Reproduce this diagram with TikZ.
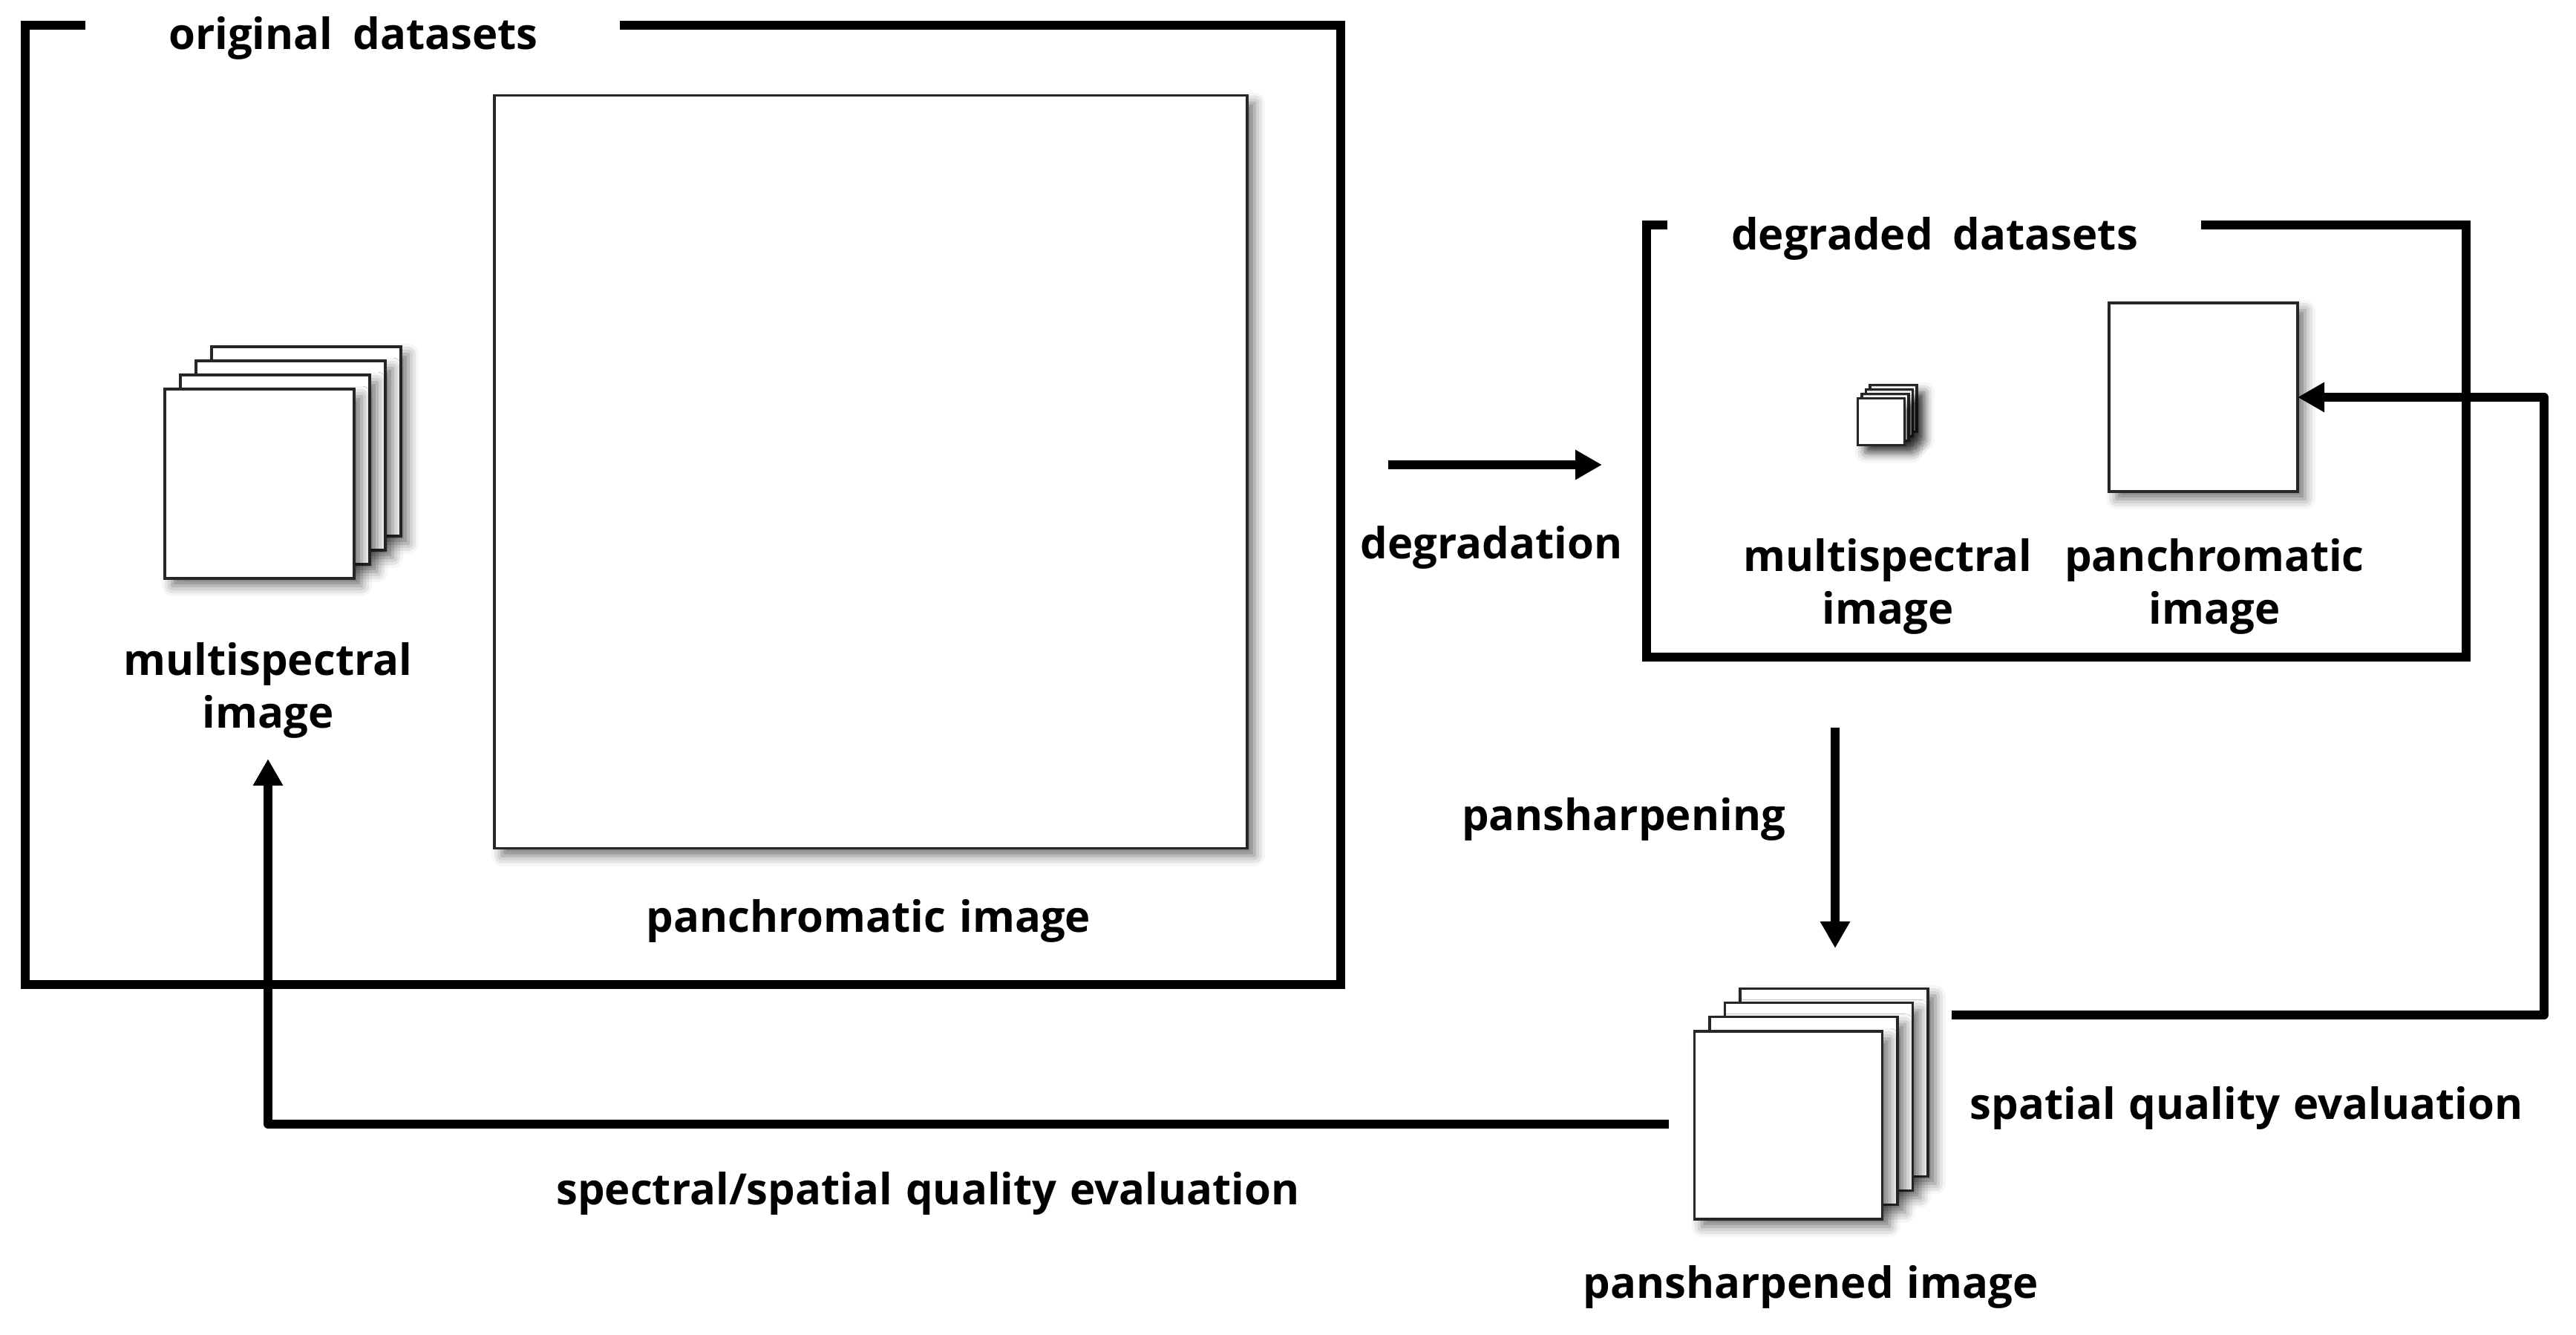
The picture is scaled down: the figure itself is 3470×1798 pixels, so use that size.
\documentclass[tikz,border=0pt]{standalone}
\usepackage{fontspec}
\setmainfont{Open Sans}[WordSpace=1.2]
\newfontfamily\ttlfont{Open Sans}[WordSpace=1.8]
\usetikzlibrary{arrows.meta,shadows.blur}
\begin{document}
\begin{tikzpicture}[x=0.25pt,y=-0.25pt,
  frame/.style={line width=3pt},
  imgbox/.style={draw=black!85, line width=0.8pt, fill=white, inner sep=0pt, outer sep=0pt, minimum size=#1,
    blur shadow={shadow xshift=2.5pt, shadow yshift=-2.5pt, shadow blur radius=3.5pt, shadow opacity=55}},
  lbl/.style={font=\bfseries\fontsize{14.5}{17.75}\selectfont, align=center, inner sep=0pt},
  ttl/.style={lbl, font=\ttlfont\bfseries\fontsize{14.5}{17.75}\selectfont},
  arr/.style={line width=3pt, -{Triangle[length=9pt,width=9.5pt]}, line join=round}]
\useasboundingbox (0,0) rectangle (3470,1798);

% ---------- original datasets ----------
\node[ttl, anchor=base] (t1) at (476,67) {original datasets};
\draw[frame] (115,34) -- (34,34) -- (34,1326) -- (1806,1326) -- (1806,34) -- (835,34);

\node[imgbox=253.5pt] (pan1) at (1173,635.5) {};
\node[lbl] (pan1l) at (1170,1240) {panchromatic image};

\foreach \k in {3,2,1,0}{
  \node[imgbox=63.75pt] (ms1-\k) at ({349.5+21*\k},{651.5-19*\k}) {};
}
\node[lbl] (ms1l) at (361,930) {multispectral\\image};

% ---------- degraded datasets ----------
\node[ttl, anchor=base] (t2) at (2606,337) {degraded datasets};
\draw[frame] (2246,303) -- (2218,303) -- (2218,885) -- (3322,885) -- (3322,303) -- (2965,303);

\foreach \k in {3,2,1,0}{
  \node[imgbox=15.75pt] (ms2-\k) at ({2534+5.5*\k},{568-6*\k}) {};
}
\node[lbl] (ms2l) at (2543,790) {multispectral\\image};

\node[imgbox=63.5pt] (pan2) at (2968,535) {};
\node[lbl] (pan2l) at (2983,790) {panchromatic\\image};

% ---------- pansharpened ----------
\foreach \k in {3,2,1,0}{
  \node[imgbox=63.25pt] (ps-\k) at ({2409+20.5*\k},{1515.5-19.3*\k}) {};
}
\node[lbl] (psl) at (2439,1733) {pansharpened image};

% ---------- arrows ----------
\coordinate (dg1) at (1870,626);
\coordinate (dg2) at (2158,626);
\draw[arr] (dg1) -- (dg2);
\node[lbl] (dgl) at (2009,737) {degradation};

\coordinate (pn1) at (2472,980);
\coordinate (pn2) at (2472,1277);
\draw[arr] (pn1) -- (pn2);
\node[lbl] (pnl) at (2187,1103) {pansharpening};

\coordinate (sp1) at (2629,1367);
\draw[arr] (sp1) -- (3427,1367) |- (pan2.east);
\node[lbl] (spl) at (3026,1492) {spatial quality evaluation};

\coordinate (ss1) at (2248,1514);
\coordinate (ss2) at (361,1022);
\draw[arr] (ss1) -| (ss2);
\node[lbl] (ssl) at (1250,1607) {spectral/spatial quality evaluation};
\end{tikzpicture}
\end{document}
